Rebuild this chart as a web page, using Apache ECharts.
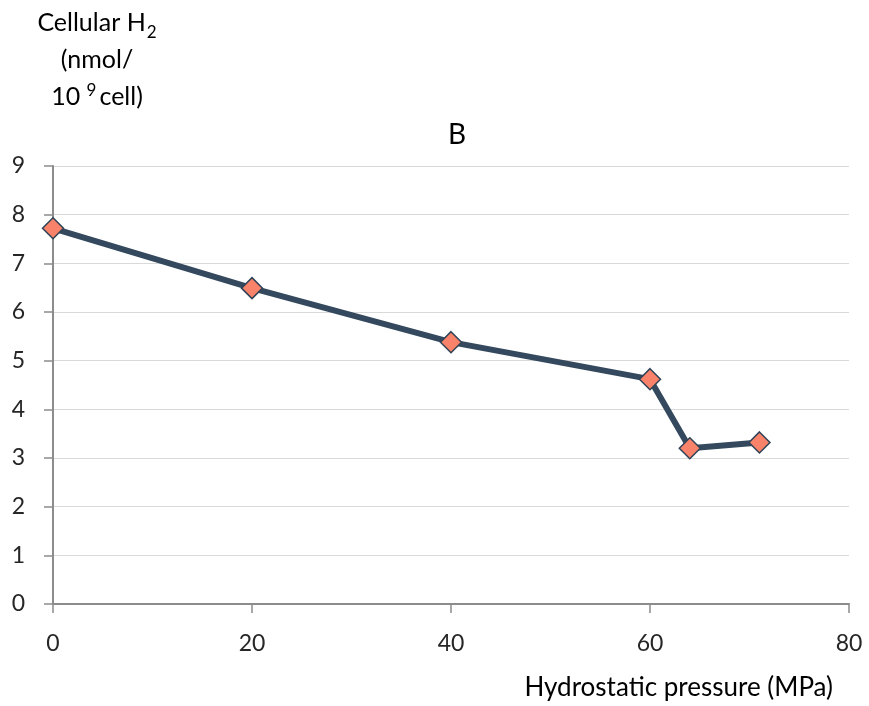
<!DOCTYPE html>
<html>
<head>
<meta charset="utf-8">
<script src="https://cdn.jsdelivr.net/npm/echarts@6/dist/echarts.min.js"></script>
<style>
  html, body { margin: 0; padding: 0; background: #ffffff; }
  #chart { width: 869px; height: 706px; }
</style>
</head>
<body>
<div id="chart"></div>
<script>
// pressure (MPa) vs cellular H2 (nmol / 10^9 cell)
const pressure = [0, 20, 40, 60, 64, 71];
const cellularH2 = [7.72, 6.49, 5.38, 4.62, 3.2, 3.32];
const xTicks = { min: 0, max: 80, interval: 20 };
const yTicks = { min: 0, max: 9, interval: 1 };

const FONT = 'Lato';
const points = pressure.map((p, i) => [p, cellularH2[i]]);

const option = {
  animation: false,
  backgroundColor: '#ffffff',
  textStyle: { fontFamily: FONT },
  title: [
    {
      text: 'B',
      left: 452,
      top: 116,
      textAlign: 'center',
      textStyle: { fontFamily: FONT, fontSize: 28, fontWeight: 'normal', color: '#000000' }
    },
    {
      text: '{a|Cellular H}{sub|2}\n{a|(nmol/}\n{a|10 }{sup|9}{a|cell)}',
      left: 92,
      top: -1,
      textAlign: 'center',
      textStyle: {
        fontFamily: FONT,
        fontSize: 25,
        fontWeight: 'normal',
        color: '#000000',
        align: 'center',
        rich: {
          a: { fontFamily: FONT, fontSize: 25, fontWeight: 'normal', lineHeight: 37, color: '#000000' },
          sub: { fontFamily: FONT, fontSize: 17, fontWeight: 'normal', lineHeight: 37, color: '#000000', verticalAlign: 'bottom', padding: [0, 0, 0, 1] },
          sup: { fontFamily: FONT, fontSize: 17, fontWeight: 'normal', lineHeight: 37, color: '#000000', verticalAlign: 'top', padding: [4, 3, 0, 0] }
        }
      }
    }
  ],
  grid: {
    left: 53,
    right: 20,
    top: 166,
    bottom: 102
  },
  xAxis: {
    type: 'value',
    min: xTicks.min,
    max: xTicks.max,
    interval: xTicks.interval,
    name: 'Hydrostatic pressure (MPa)',
    nameLocation: 'end',
    nameGap: 0,
    nameTextStyle: {
      fontFamily: FONT,
      fontSize: 26,
      color: '#000000',
      align: 'right',
      verticalAlign: 'top',
      padding: [71, 16, 0, 0]
    },
    axisLine: { show: true, lineStyle: { color: '#8c8c8c', width: 2 } },
    axisTick: { show: true, length: 9, lineStyle: { color: '#8c8c8c', width: 1.5 } },
    axisLabel: { fontFamily: FONT, fontSize: 23, color: '#262626', margin: 28 },
    splitLine: { show: false }
  },
  yAxis: {
    type: 'value',
    min: yTicks.min,
    max: yTicks.max,
    interval: yTicks.interval,
    axisLine: { show: true, lineStyle: { color: '#8c8c8c', width: 2 } },
    axisTick: { show: true, length: 9, lineStyle: { color: '#8c8c8c', width: 1.5 } },
    axisLabel: { fontFamily: FONT, fontSize: 23, color: '#262626', margin: 28 },
    splitLine: { show: true, lineStyle: { color: '#d9d9d9', width: 1 } }
  },
  series: [
    {
      type: 'line',
      data: points,
      lineStyle: { color: '#34495e', width: 6 },
      symbol: 'diamond',
      symbolSize: 21,
      itemStyle: { color: '#f8826a', borderColor: '#2f4356', borderWidth: 1.5 },
      z: 3
    }
  ]
};

const chart = echarts.init(document.getElementById('chart'), null, { renderer: 'canvas' });
chart.setOption(option);
</script>
</body>
</html>
